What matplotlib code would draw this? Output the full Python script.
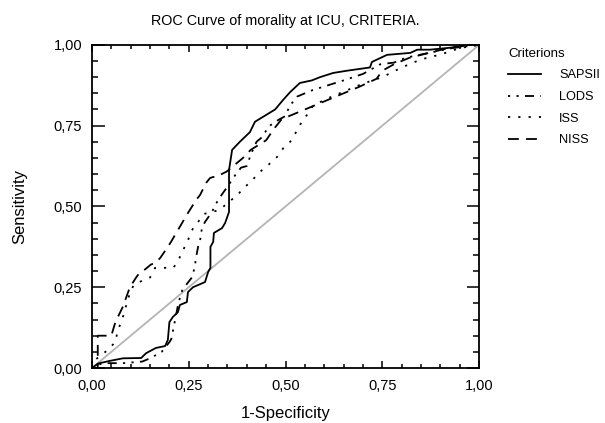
#!/usr/bin/env python3
"""
ROC curves of mortality at ICU for four scoring criteria.
"""

import matplotlib
matplotlib.use('Agg')
import matplotlib.pyplot as plt
from matplotlib.ticker import MultipleLocator, FixedLocator, FixedFormatter

plt.rcParams['font.family'] = ['Liberation Sans', 'DejaVu Sans']

# values (1-specificity, sensitivity)
sapsii_x = [0, 0.016, 0.046, 0.08, 0.127, 0.14, 0.165, 0.189, 0.196, 0.2, 0.209, 0.222,
            0.227, 0.245, 0.248, 0.261, 0.292, 0.30, 0.306, 0.306, 0.313, 0.315, 0.336,
            0.344, 0.354, 0.354, 0.362, 0.382, 0.408, 0.421, 0.473, 0.494, 0.512, 0.537,
            0.568, 0.589, 0.623, 0.659, 0.718, 0.723, 0.762, 0.822, 0.84, 0.873, 0.95,
            0.97, 1.0]
sapsii_y = [0, 0.014, 0.022, 0.03, 0.031, 0.046, 0.062, 0.068, 0.087, 0.142, 0.158, 0.173,
            0.195, 0.204, 0.235, 0.25, 0.266, 0.297, 0.31, 0.375, 0.39, 0.418, 0.433,
            0.449, 0.483, 0.613, 0.675, 0.70, 0.73, 0.762, 0.80, 0.83, 0.854, 0.882,
            0.89, 0.90, 0.913, 0.92, 0.93, 0.947, 0.969, 0.975, 0.985, 0.985, 0.994,
            1.0, 1.0]

lods_x = [0, 0.01, 0.04, 0.08, 0.13, 0.15, 0.18, 0.2, 0.205, 0.21, 0.215, 0.223, 0.233,
          0.245, 0.258, 0.265, 0.27, 0.275, 0.28, 0.284, 0.292, 0.31, 0.323, 0.331, 0.362,
          0.37, 0.385, 0.40, 0.41, 0.425, 0.44, 0.455, 0.47, 0.50, 0.51, 0.53, 0.57, 0.61,
          0.65, 0.70, 0.745, 0.78, 0.81, 0.87, 0.93, 1.0]
lods_y = [0, 0.01, 0.015, 0.015, 0.02, 0.03, 0.05, 0.08, 0.09, 0.12, 0.15, 0.2, 0.24,
          0.26, 0.28, 0.31, 0.35, 0.38, 0.40, 0.433, 0.452, 0.483, 0.514, 0.529, 0.582,
          0.597, 0.62, 0.625, 0.66, 0.70, 0.715, 0.745, 0.76, 0.78, 0.81, 0.84, 0.86, 0.875,
          0.89, 0.91, 0.94, 0.945, 0.96, 0.975, 0.99, 1.0]

iss_x = [0, 0.008, 0.04, 0.06, 0.067, 0.078, 0.09, 0.1, 0.11, 0.15, 0.163, 0.21, 0.222,
         0.233, 0.245, 0.26, 0.29, 0.32, 0.33, 0.36, 0.375, 0.395, 0.413, 0.434, 0.455,
         0.478, 0.494, 0.517, 0.53, 0.545, 0.56, 0.57, 0.6, 0.65, 0.7, 0.75, 0.8, 0.85,
         0.9, 0.95, 1.0]
iss_y = [0, 0.025, 0.055, 0.08, 0.117, 0.15, 0.2, 0.24, 0.26, 0.28, 0.31, 0.31, 0.33,
         0.36, 0.387, 0.43, 0.477, 0.486, 0.49, 0.52, 0.535, 0.56, 0.58, 0.607, 0.628,
         0.653, 0.68, 0.706, 0.737, 0.768, 0.79, 0.81, 0.83, 0.855, 0.88, 0.90, 0.93,
         0.955, 0.97, 0.99, 1.0]

niss_x = [0, 0.015, 0.015, 0.05, 0.06, 0.067, 0.08, 0.088, 0.098, 0.114, 0.12, 0.132,
          0.152, 0.163, 0.176, 0.196, 0.204, 0.222, 0.23, 0.248, 0.256, 0.269, 0.279,
          0.295, 0.305, 0.313, 0.32, 0.348, 0.37, 0.39, 0.41, 0.45, 0.47, 0.49, 0.53,
          0.56, 0.60, 0.65, 0.69, 0.735, 0.75, 0.78, 0.82, 0.87, 0.92, 0.97, 1.0]
niss_y = [0, 0, 0.1, 0.1, 0.14, 0.158, 0.19, 0.217, 0.25, 0.28, 0.29, 0.30, 0.32, 0.325,
          0.34, 0.375, 0.39, 0.427, 0.443, 0.48, 0.495, 0.52, 0.535, 0.573, 0.588, 0.591,
          0.591, 0.608, 0.63, 0.65, 0.675, 0.705, 0.74, 0.77, 0.79, 0.805, 0.825, 0.85,
          0.87, 0.895, 0.92, 0.94, 0.96, 0.975, 0.99, 1.0, 1.0]

tick_values = [0, 0.25, 0.5, 0.75, 1.0]
tick_labels = ['0,00', '0,25', '0,50', '0,75', '1,00']


def main():
    fig = plt.figure(figsize=(6.05, 4.23), dpi=100)
    ax = fig.add_axes([0.152, 0.130, 0.640, 0.764])

    # reference diagonal
    ax.plot([0, 1], [0, 1], color='#b4b4b4', lw=1.3, zorder=1)

    ax.plot(sapsii_x, sapsii_y, color='black', lw=1.3, label='SAPSII')
    ax.plot(lods_x, lods_y, color='black', lw=1.3, label='LODS',
            dashes=(1.2, 3.5, 1.2, 3.5, 5, 3.5))
    ax.plot(iss_x, iss_y, color='black', lw=1.3, label='ISS', dashes=(1.2, 4.5))
    ax.plot(niss_x, niss_y, color='black', lw=1.3, label='NISS', dashes=(6, 4))

    ax.set_xlim(0, 1)
    ax.set_ylim(0, 1)
    for sp in ax.spines.values():
        sp.set_linewidth(1.3)

    for axis in (ax.xaxis, ax.yaxis):
        axis.set_major_locator(FixedLocator(tick_values))
        axis.set_major_formatter(FixedFormatter(tick_labels))
        axis.set_minor_locator(MultipleLocator(0.05))
    ax.tick_params(which='both', direction='in', top=True, right=True, width=1.1,
                   labelsize=10.5)
    ax.tick_params(axis='x', which='major', length=5, pad=8)
    ax.tick_params(axis='x', which='minor', length=3)
    ax.tick_params(axis='y', which='major', length=9, pad=7)
    ax.tick_params(axis='y', which='minor', length=4.5)

    ax.set_title('ROC Curve of morality at ICU, CRITERIA.', fontsize=10.4, pad=14)
    ax.set_xlabel('1-Specificity', fontsize=12, labelpad=9)
    ax.set_ylabel('Sensitivity', fontsize=12, labelpad=19)

    ax.legend(loc='upper left', bbox_to_anchor=(1.045, 1.027), frameon=False,
              title='Criterions', fontsize=9.2, title_fontsize=9.5,
              handlelength=2.6, handletextpad=1.4, labelspacing=0.76,
              alignment='left')

    fig.savefig('out.png', dpi=100)


if __name__ == "__main__":
    main()
